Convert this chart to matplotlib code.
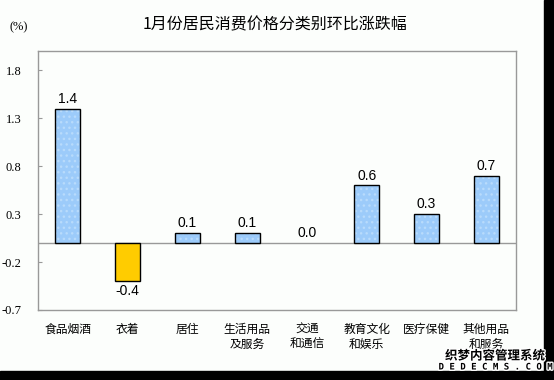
import matplotlib
matplotlib.use("Agg")
import matplotlib.pyplot as plt
import matplotlib.patheffects as pe
from matplotlib.patches import Rectangle

categories = ["食品烟酒", "衣着", "居住", "生活用品\n及服务", "交通\n和通信", "教育文化\n和娱乐", "医疗保健", "其他用品\n和服务"]
values = [1.4, -0.4, 0.1, 0.1, 0.0, 0.6, 0.3, 0.7]
value_labels = ["1.4", "-0.4", "0.1", "0.1", "0.0", "0.6", "0.3", "0.7"]
yticks = [-0.7, -0.2, 0.3, 0.8, 1.3, 1.8]
title = "1月份居民消费价格分类别环比涨跌幅"

cjk = ["Noto Sans CJK SC", "DejaVu Sans"]
bg = "#FCFEFC"

fig = plt.figure(figsize=(5.54, 3.80), dpi=100, facecolor=bg)
ax = fig.add_axes([38/554, 1 - 310/380, (516-38)/554, (310-51.3)/380])
ax.set_facecolor(bg)

x = list(range(len(values)))
colors = ["#FFCC00" if v < 0 else "#9CCBFA" for v in values]
for xi, v, c in zip(x, values, colors):
    if v == 0:
        continue
    if v < 0:
        ax.bar(xi, v, width=0.42, color=c, edgecolor="black", linewidth=1, zorder=3)
    else:
        ax.bar(xi, v, width=0.42, color=c, edgecolor="#B8DBFC", hatch="...", linewidth=0, zorder=2)
        ax.bar(xi, v, width=0.42, fill=False, edgecolor="black", linewidth=1, zorder=4)

ax.axhline(0, color="#999999", linewidth=1, zorder=1)

for xi, v, t in zip(x, values, value_labels):
    if v < 0:
        ax.text(xi, v - 0.03, t, ha="center", va="top", fontsize=10, family="Liberation Sans")
    else:
        ax.text(xi, v + 0.03, t, ha="center", va="bottom", fontsize=10, family="Liberation Sans")

ax.set_xlim(-0.5, len(values) - 0.5)
ax.set_ylim(-0.7, 2.0)
ax.set_yticks(yticks)
ax.set_yticklabels([f"{t:.1f}" for t in yticks], family="Liberation Serif", fontsize=9)
ax.tick_params(axis="y", direction="in", length=3, color="#999999", pad=12)
ax.set_xticks(x)
ax.set_xticklabels(categories, family=cjk, fontsize=8.5, linespacing=1.25, va="top")
ax.tick_params(axis="x", length=0, pad=9)
for s in ax.spines.values():
    s.set_color("#999999")
    s.set_linewidth(1)

fig.text(275/554, 1 - 25/380, title, ha="center", va="center", family=cjk, fontsize=11.5)
fig.text(19/554, 1 - 27/380, "(%)", ha="center", va="center", family="Liberation Serif", fontsize=9)

# black borders at right and bottom
fig.patches.append(Rectangle((544/554, 0), 10/554, 1, transform=fig.transFigure, color="black", zorder=0))
fig.patches.append(Rectangle((0, 0), 1, 9/380, transform=fig.transFigure, color="black", zorder=0))

# watermark
wm1 = fig.text(495/554, 1 - 356/380, "织梦内容管理系统", ha="center", va="center", family=cjk,
               fontsize=9, fontweight="bold", color="black")
wm2 = fig.text(495/554, 1 - 367/380, "D E D E C M S . C O M", ha="center", va="center", family="DejaVu Sans Mono",
               fontsize=6.5, fontweight="bold", color="black")
for w in (wm1, wm2):
    w.set_path_effects([pe.withStroke(linewidth=2, foreground="white")])

fig.savefig("out.png", dpi=100, facecolor=bg)
